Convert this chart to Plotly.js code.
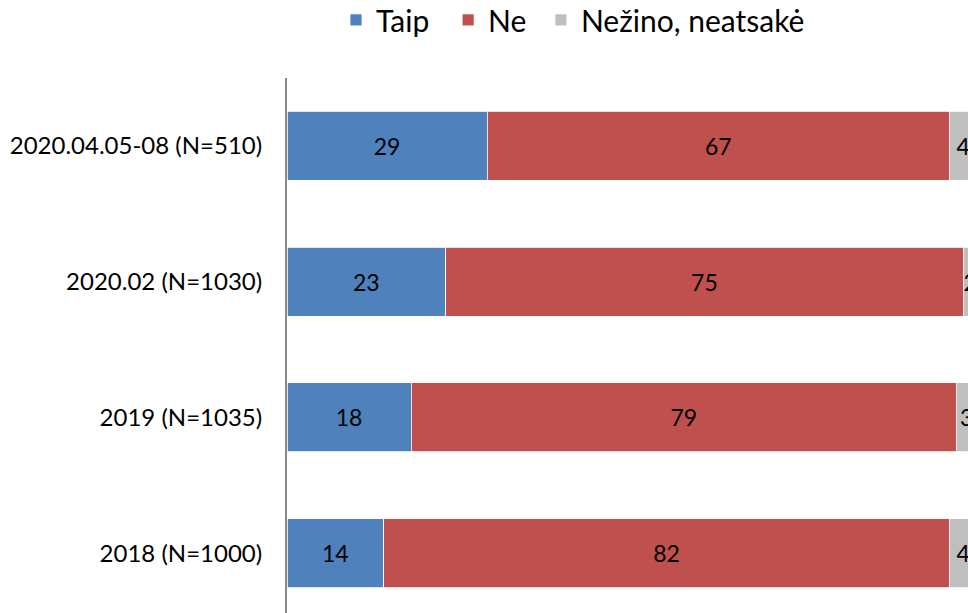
<!DOCTYPE html>
<html>
<head>
<meta charset="utf-8">
<script src="https://cdn.plot.ly/plotly-3.0.1.min.js"></script>
<style>
  html, body { margin: 0; padding: 0; overflow: hidden; background: #fff; }
  #chart { width: 1000px; height: 640px; }
</style>
</head>
<body>
<div id="chart"></div>
<script>
const categories = ["2020.04.05-08 (N=510)", "2020.02 (N=1030)", "2019 (N=1035)", "2018 (N=1000)"];
const taip = [29, 23, 18, 14];
const ne = [67, 75, 79, 82];
const nezino = [4, 2, 3, 4];
const seriesNames = ["Taip", "Ne", "Nežino, neatsakė"];
const seriesColors = ["#4F81BD", "#C0504D", "#BFBFBF"];
const seriesValues = [taip, ne, nezino];
const legendIds = ["legend", "legend2", "legend3"];
const legendX = [0.071, 0.2335, 0.368];

const FONT = "Lato, Calibri, Carlito, 'Liberation Sans', sans-serif";

const traces = seriesValues.map((vals, i) => ({
  type: "bar",
  orientation: "h",
  name: seriesNames[i],
  legend: legendIds[i],
  y: categories,
  x: vals,
  text: vals.map(String),
  textposition: "inside",
  insidetextanchor: "middle",
  textangle: 0,
  constraintext: "none",
  insidetextfont: { family: FONT, size: 23, color: "#000000" },
  marker: { color: seriesColors[i], line: { color: "#ffffff", width: 0.8 } },
  hoverinfo: "none"
}));

const layout = {
  width: 1000,
  height: 640,
  margin: { l: 287, r: 23, t: 78, b: 19, autoexpand: false },
  paper_bgcolor: "#ffffff",
  plot_bgcolor: "#ffffff",
  barmode: "stack",
  bargap: 0.49,
  font: { family: FONT, size: 24, color: "#000000" },
  showlegend: true,
  xaxis: {
    range: [0, 100],
    showgrid: false, zeroline: false, showline: false,
    showticklabels: false, ticks: "", fixedrange: true
  },
  yaxis: {
    type: "category",
    autorange: "reversed",
    showgrid: false, zeroline: false,
    showline: true, linecolor: "#898989", linewidth: 2,
    ticks: "", ticklabelstandoff: 18,
    tickfont: { family: FONT, size: 24, color: "#000000" }
  }
};
legendIds.forEach((id, i) => {
  layout[id] = {
    orientation: "h",
    x: legendX[i], xanchor: "left",
    y: 1.107, yanchor: "middle",
    font: { family: FONT, size: 30, color: "#000000" },
    itemwidth: 30,
    bgcolor: "rgba(0,0,0,0)"
  };
});

Plotly.newPlot("chart", traces, layout, { staticPlot: true, displayModeBar: false });
</script>
</body>
</html>
